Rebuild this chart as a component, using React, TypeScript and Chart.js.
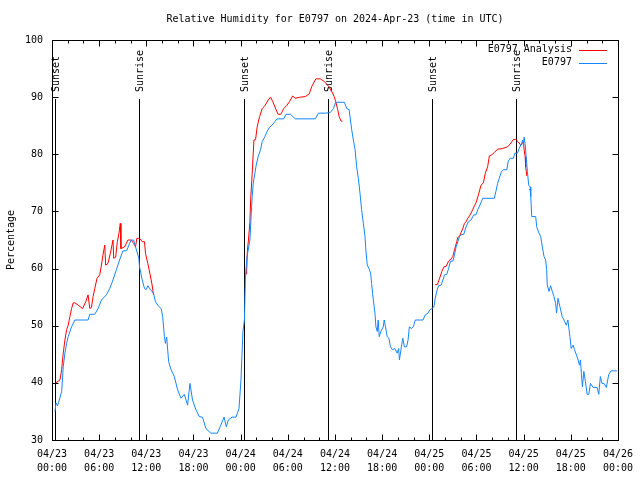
import React, { useEffect, useRef } from 'react';
import { Chart, registerables } from 'chart.js';

Chart.register(...registerables);

const TITLE = 'Relative Humidity for E0797 on 2024-Apr-23 (time in UTC)';
const Y_LABEL = 'Percentage';
const ANA_LABEL = 'E0797 Analysis';
const OBS_LABEL = 'E0797';
const RED = '#ff0000';
const BLUE = '#1585ff';

const xTickDates = ['04/23', '04/23', '04/23', '04/23', '04/24', '04/24', '04/24', '04/24', '04/25', '04/25', '04/25', '04/25', '04/26'];
const xTickTimes = ['00:00', '06:00', '12:00', '18:00', '00:00', '06:00', '12:00', '18:00', '00:00', '06:00', '12:00', '18:00', '00:00'];
const yTickValues = [30, 40, 50, 60, 70, 80, 90, 100];

const sunEventHours = [0.38, 11.01, 24.46, 35.05, 48.36, 58.99];
const sunEventLabels = ['Sunset', 'Sunrise', 'Sunset', 'Sunrise', 'Sunset', 'Sunrise'];

// hours since 04/23 00:00 UTC
const obsHours = [
  0.38, 0.51, 0.70, 0.82, 1.23, 1.43, 1.64, 1.86, 2.06, 2.49, 2.91, 4.59, 4.81, 5.44, 5.86, 6.29, 6.92, 7.34, 7.76, 8.19,
  8.60, 9.02, 9.49, 9.87, 10.08, 10.38, 10.63, 11.05, 11.13, 11.48, 11.77, 11.98, 12.19, 12.53, 12.91, 13.16, 13.45, 13.88, 14.08, 14.30,
  14.43, 14.59, 14.84, 15.15, 15.56, 15.98, 16.41, 16.83, 17.25, 17.55, 17.88, 18.31, 18.73, 19.15, 19.58, 20.21, 21.04, 21.47, 21.89, 22.18,
  22.43, 22.90, 23.41, 23.79, 24.04, 24.29, 24.48, 24.61, 24.80, 25.18, 25.35, 25.47, 25.60, 25.81, 25.98, 26.23, 26.53, 26.74, 27.08, 27.37,
  27.67, 28.00, 28.34, 28.63, 29.48, 29.77, 30.33, 30.96, 33.49, 33.91, 34.76, 35.39, 35.81, 36.10, 37.20, 37.49, 37.80, 38.13, 38.34, 38.56,
  38.76, 38.97, 39.19, 39.39, 39.61, 39.82, 39.95, 40.11, 40.33, 40.53, 40.66, 40.78, 40.96, 41.09, 41.21, 41.38, 41.50, 41.63, 41.84, 42.14,
  42.26, 42.43, 42.64, 42.86, 43.06, 43.31, 43.62, 43.91, 44.10, 44.20, 44.45, 44.63, 44.83, 45.11, 45.30, 45.46, 45.72, 45.97, 46.22, 47.20,
  47.49, 47.83, 48.08, 48.34, 48.59, 48.75, 49.01, 49.18, 49.51, 49.73, 49.94, 50.23, 50.45, 50.70, 50.99, 51.21, 51.41, 51.54, 51.84, 52.04,
  52.39, 52.68, 52.98, 53.31, 53.65, 53.94, 54.16, 54.50, 54.79, 56.27, 56.47, 56.69, 56.90, 57.19, 57.45, 57.86, 58.04, 58.29, 58.71, 58.88,
  59.22, 59.43, 59.72, 59.89, 59.98, 60.06, 60.19, 60.32, 60.48, 60.65, 60.83, 60.91, 61.03, 61.54, 61.66, 61.96, 62.17, 62.38, 62.60, 62.80,
  62.93, 63.01, 63.23, 63.43, 63.65, 63.86, 64.07, 64.19, 64.37, 64.62, 64.91, 65.20, 65.42, 65.63, 65.89, 66.05, 66.30, 66.47, 66.72, 66.94,
  67.10, 67.23, 67.36, 67.48, 67.66, 67.86, 68.08, 68.29, 68.50, 68.84, 69.34, 69.56, 69.76, 69.97, 70.23, 70.52, 70.82, 71.11, 71.87,
];
const obsValues = [
  35, 36.5, 36, 36.5, 38.5, 42.8, 45.2, 46.9, 48.1, 49.8, 51, 51, 52, 52, 53, 54.5, 55.4, 56.5, 58, 59.8,
  61.5, 63.1, 63.1, 64.4, 65, 65, 63.8, 61.8, 60.3, 58, 56.5, 56.3, 57, 56.3, 55.7, 54.2, 53.6, 53, 51.6, 48.1,
  46.9, 48, 43.7, 42.3, 41.1, 38.8, 37.3, 38, 36.1, 39.9, 37, 35.3, 34.1, 34, 32, 31.2, 31.2, 32.6, 34, 32.3,
  33.5, 34, 34, 35.5, 40.5, 49, 51, 58.5, 62, 65, 69.7, 72.6, 74.9, 76.7, 78.1, 79.6, 80.8, 82.2, 83.1, 84,
  84.7, 85.1, 85.7, 86.2, 86.2, 87, 87, 86.2, 86.2, 87.2, 87.2, 87.3, 88, 89.1, 89.1, 88, 87.8, 84.3, 82.5, 80.8,
  77.8, 75.8, 73.1, 70.3, 67.9, 65.6, 62.9, 60.6, 60, 59.2, 57.4, 55.7, 53.6, 52.2, 49.8, 49, 51, 48.1, 49, 49.8,
  51, 49.8, 48.1, 47.8, 46.3, 45.8, 46, 45.2, 46, 44, 46.3, 47.8, 46.3, 46.3, 47.5, 49.8, 49.5, 49.8, 51, 51,
  51.9, 52.2, 52.8, 53, 53.3, 54.8, 56.3, 57, 57.1, 58, 58.9, 59, 60, 61.3, 61.3, 62.4, 63.8, 64.3, 65.6, 65.9,
  66, 67.3, 68.2, 68.5, 69.4, 69.4, 70.3, 71.3, 72.3, 72.3, 73.5, 74.9, 75.8, 77, 77.3, 77.3, 78.8, 79.3, 79.3, 80.2,
  80.2, 81, 81.9, 82.5, 81.5, 83, 81.9, 79.6, 77, 74.6, 74.3, 72.6, 69.1, 69.1, 67.3, 66.2, 65.6, 63.8, 62.1, 61.5,
  59.8, 57.1, 56, 57, 56, 55.1, 53.9, 52.2, 54.8, 53.3, 51.6, 50.8, 50.1, 51, 48.1, 46, 46.6, 45.8, 44.9, 44,
  43.1, 44, 41.4, 39.3, 42, 40.2, 38, 38, 39.9, 39.2, 39.2, 38, 41.1, 39.9, 39.9, 39.2, 41.4, 42.1, 42.1,
];

const anaHours = [
  0.38, 1.01, 1.23, 1.43, 1.64, 1.86, 2.06, 2.28, 2.49, 2.70, 2.91, 3.33, 3.88, 4.30, 4.59, 4.81, 5.02, 5.23, 5.44, 5.73,
  6.07, 6.29, 6.49, 6.71, 6.83, 7.12, 7.43, 7.76, 7.85, 8.10, 8.31, 8.52, 8.69, 8.77, 9.24, 9.65, 10.08, 10.38, 10.63, 10.79,
  11.13, 11.48, 11.77, 11.89, 12.19, 12.49, 12.74, 12.91, 13.0,
  24.75, 24.85, 24.99, 25.18, 25.27, 25.47, 25.69, 25.90, 26.10, 26.41, 26.74, 27.08, 27.50, 27.80, 28.09, 28.51, 28.76, 29.10, 29.48, 29.90,
  30.20, 30.62, 30.96, 31.60, 32.23, 32.74, 33.06, 33.57, 34.13, 34.67, 35.18, 35.59, 35.90, 36.10, 36.35, 36.53, 36.78, 36.95, 37.0,
  48.75, 49.03, 49.31, 49.60, 49.86, 50.15, 50.45, 50.78, 50.99, 51.21, 51.50, 51.63, 51.84, 52.04, 52.26, 52.47, 52.68, 52.89, 53.11, 53.31,
  53.52, 53.74, 53.94, 54.25, 54.58, 54.88, 55.13, 55.42, 55.64, 55.93, 56.27, 56.69, 57.32, 57.95, 58.29, 58.71, 59.00, 59.30, 59.63, 59.98,
  60.06, 60.19, 60.27, 60.40, 60.55, 60.70, 60.91,
];
const anaValues: (number | null)[] = [
  39.9, 40.5, 42.3, 45.2, 47.5, 49.3, 50.1, 51.6, 53, 54, 54, 53.6, 53, 54.2, 55.4, 53, 53.2, 55.1, 56.5, 58.3,
  58.9, 60.6, 62.4, 64.1, 60.6, 60.9, 62.7, 65, 61.8, 62, 64.7, 66.2, 67.9, 63.5, 63.8, 65, 65, 64.4, 63.8, 65.3,
  65.3, 64.7, 64.7, 62.7, 60.9, 58.9, 57.1, 55.4, null,
  59, 63, 65, 68.2, 72, 76.7, 82.5, 82.6, 84.8, 86.6, 88, 88.5, 89.5, 90, 89.2, 87.8, 87, 87, 88, 88.6,
  89.2, 90.2, 89.8, 90, 90.1, 90.6, 91.9, 93.2, 93.2, 92.7, 91.9, 91, 90.1, 89.2, 87.8, 86.6, 85.8, 85.8, null,
  57.2, 57.2, 58.3, 59.5, 60.3, 60.4, 61.3, 61.7, 62.1, 63.3, 64.7, 65.5, 65.6, 66.3, 67, 67.9, 68.2, 68.8, 69.2, 69.7,
  70.3, 71, 71.5, 72.9, 74.6, 75, 76.7, 77.8, 79.7, 79.9, 80.3, 80.9, 81, 81.3, 81.8, 82.6, 82.6, 82.2, 81.6, 82.2,
  80.8, 79.6, 77.8, 76.2, null, 73.8, 73.8,
];

const FONT_FAMILY = '"DejaVu Sans Mono", monospace';
const FONT = `10px ${FONT_FAMILY}`;

const decorPlugin = {
  id: 'decor',
  beforeDatasetsDraw(chart: any) {
    const { ctx, chartArea: a, scales } = chart;
    const x = scales.x;
    ctx.save();
    ctx.strokeStyle = '#000';
    ctx.lineWidth = 1;
    ctx.fillStyle = '#000';
    ctx.font = FONT;
    sunEventHours.forEach((h, i) => {
      const px = Math.round(x.getPixelForValue(h)) + 0.5;
      ctx.beginPath();
      ctx.moveTo(px, a.top + 59);
      ctx.lineTo(px, a.bottom);
      ctx.stroke();
      ctx.save();
      ctx.translate(px + 1, a.top + 52);
      ctx.rotate(-Math.PI / 2);
      ctx.textAlign = 'left';
      ctx.textBaseline = 'middle';
      ctx.fillText(sunEventLabels[i], 0, 0);
      ctx.restore();
    });
    ctx.restore();
  },
  afterDraw(chart: any) {
    const { ctx, chartArea: a, scales } = chart;
    const x = scales.x;
    const y = scales.y;
    ctx.save();
    // title centred over the plot area
    ctx.fillStyle = '#000';
    ctx.font = FONT;
    ctx.textAlign = 'center';
    ctx.textBaseline = 'middle';
    ctx.fillText(TITLE, (a.left + a.right) / 2, a.top - 21);

    ctx.strokeStyle = '#000';
    ctx.lineWidth = 1;
    const L = Math.round(a.left) + 0.5;
    const R = Math.round(a.right) + 0.5;
    const T = Math.round(a.top) + 0.5;
    const B = Math.round(a.bottom) + 0.5;
    ctx.strokeRect(L, T, R - L, B - T);
    ctx.beginPath();
    for (let h = 2; h < 72; h += 2) {
      const px = Math.round(x.getPixelForValue(h)) + 0.5;
      const len = h % 6 === 0 ? 6 : 3;
      ctx.moveTo(px, B);
      ctx.lineTo(px, B - len);
      ctx.moveTo(px, T);
      ctx.lineTo(px, T + len);
    }
    yTickValues.forEach((v) => {
      if (v === 30 || v === 100) return;
      const py = Math.round(y.getPixelForValue(v)) + 0.5;
      ctx.moveTo(L, py);
      ctx.lineTo(L + 6, py);
      ctx.moveTo(R, py);
      ctx.lineTo(R - 6, py);
    });
    ctx.stroke();

    // legend
    const items = [
      { label: ANA_LABEL, color: RED },
      { label: OBS_LABEL, color: BLUE },
    ];
    ctx.font = FONT;
    ctx.textAlign = 'right';
    ctx.textBaseline = 'middle';
    items.forEach((it, i) => {
      const ly = a.top + 9.5 + i * 13;
      ctx.fillStyle = '#000';
      ctx.fillText(it.label, a.right - 46, ly);
      ctx.strokeStyle = it.color;
      ctx.beginPath();
      ctx.moveTo(a.right - 39, Math.round(ly) + 0.5);
      ctx.lineTo(a.right - 11, Math.round(ly) + 0.5);
      ctx.stroke();
    });
    ctx.restore();
  },
};

export default function App() {
  const ref = useRef<HTMLCanvasElement | null>(null);

  useEffect(() => {
    if (!ref.current) return;
    const obsData = obsHours.map((h, i) => ({ x: h, y: obsValues[i] }));
    const anaData = anaHours.map((h, i) => ({ x: h, y: anaValues[i] }));
    const chart = new Chart(ref.current, {
      type: 'line',
      data: {
        datasets: [
          {
            label: OBS_LABEL,
            data: obsData as any,
            borderColor: BLUE,
            borderWidth: 1,
            pointRadius: 0,
            tension: 0,
            fill: false,
          },
          {
            label: ANA_LABEL,
            data: anaData as any,
            borderColor: RED,
            borderWidth: 1,
            pointRadius: 0,
            tension: 0,
            fill: false,
            spanGaps: false,
          },
        ],
      },
      options: {
        animation: false,
        responsive: false,
        maintainAspectRatio: false,
        layout: { padding: { left: 0, right: 19, top: 40, bottom: 0 } },
        plugins: {
          legend: { display: false },
          tooltip: { enabled: false },
          title: { display: false },
        },
        scales: {
          x: {
            type: 'linear',
            min: 0,
            max: 72,
            afterBuildTicks: (s: any) => {
              s.ticks = xTickDates.map((_, i) => ({ value: i * 6 }));
            },
            afterFit: (s: any) => {
              s.height = 40;
            },
            ticks: {
              autoSkip: false,
              maxRotation: 0,
              minRotation: 0,
              color: '#000',
              padding: 7,
              font: { family: FONT_FAMILY, size: 10, lineHeight: 1.4 },
              callback: (v: any) => {
                const i = Math.round(Number(v) / 6);
                return [xTickDates[i], xTickTimes[i]];
              },
            },
            grid: { display: false, drawTicks: false },
            border: { display: false },
          },
          y: {
            min: 30,
            max: 100,
            afterBuildTicks: (s: any) => {
              s.ticks = yTickValues.map((v) => ({ value: v }));
            },
            afterFit: (s: any) => {
              s.width = 52;
            },
            ticks: {
              color: '#000',
              padding: 9,
              font: { family: FONT_FAMILY, size: 10 },
            },
            grid: { display: false, drawTicks: false },
            border: { display: false },
            title: {
              display: true,
              text: Y_LABEL,
              color: '#000',
              font: { family: FONT_FAMILY, size: 10 },
              padding: { top: 5, bottom: 0 },
            },
          },
        },
      },
      plugins: [decorPlugin],
    });
    return () => chart.destroy();
  }, []);

  return (
    <div style={{ position: 'fixed', left: 0, top: 0, width: 640, height: 480, background: '#fff' }}>
      <canvas ref={ref} width={640} height={480} style={{ display: 'block', width: 640, height: 480 }} />
    </div>
  );
}
